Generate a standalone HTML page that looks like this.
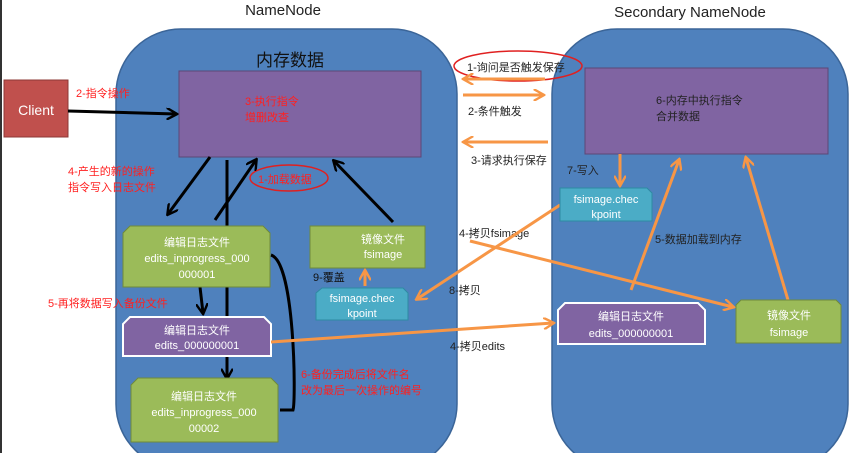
<!DOCTYPE html>
<html><head><meta charset="utf-8"><style>
body{margin:0;background:#fff;width:851px;height:453px;overflow:hidden}
svg{display:block;font-family:"Liberation Sans","Noto Sans CJK SC",sans-serif}
</style></head><body>
<svg width="851" height="453" viewBox="0 0 851 453" xmlns="http://www.w3.org/2000/svg">
<defs>
<marker id="ab" viewBox="0 0 10 10" refX="8" refY="5" markerWidth="4" markerHeight="4" orient="auto"><path d="M0,0 L9,5 L0,10" fill="none" stroke="#000" stroke-width="2"/></marker>
<marker id="ao" viewBox="0 0 10 10" refX="8" refY="5" markerWidth="4" markerHeight="4" orient="auto"><path d="M0,0 L9,5 L0,10" fill="none" stroke="#f79646" stroke-width="2"/></marker>
</defs>
<rect x="0" y="0" width="2" height="453" fill="#333"/>
<text x="283" y="15" font-size="15" text-anchor="middle" fill="#222">NameNode</text>
<text x="690" y="17" font-size="15" text-anchor="middle" fill="#222">Secondary  NameNode</text>
<rect x="116" y="29" width="341" height="440" rx="65" fill="#4f81bd" stroke="#3b6598" stroke-width="1.5"/>
<rect x="552" y="29" width="296" height="440" rx="65" fill="#4f81bd" stroke="#3b6598" stroke-width="1.5"/>
<text x="290" y="66" font-size="17" text-anchor="middle" fill="#111">内存数据</text>
<rect x="179" y="71" width="242" height="86" fill="#8064a2" stroke="#5c4776"/>
<rect x="4" y="80" width="64" height="57" fill="#c0504d" stroke="#8c3836"/>
<text x="36" y="115" font-size="14" text-anchor="middle" fill="#fff">Client</text>
<line x1="68" y1="111" x2="176" y2="114" stroke="#000" stroke-width="3" marker-end="url(#ab)"/>
<g fill="#ff2020" font-size="11">
<text x="76" y="97">2-指令操作</text>
<text x="245" y="105">3-执行指令</text><text x="245" y="121">增删改查</text>
<text x="68" y="175">4-产生的新的操作</text><text x="68" y="191">指令写入日志文件</text>
<text x="48" y="307">5-再将数据写入备份文件</text>
<text x="301" y="378">6-备份完成后将文件名</text><text x="301" y="394">改为最后一次操作的编号</text>
<text x="258" y="183">1-加载数据</text>
</g>
<ellipse cx="289" cy="178" rx="39" ry="13" fill="none" stroke="#e02020" stroke-width="1.5"/>
<!-- black arrows -->
<line x1="210" y1="157" x2="168" y2="214" stroke="#000" stroke-width="3" marker-end="url(#ab)"/>
<line x1="227" y1="160" x2="227" y2="378" stroke="#000" stroke-width="3" marker-end="url(#ab)"/>
<line x1="215" y1="220" x2="256" y2="160" stroke="#000" stroke-width="3" marker-end="url(#ab)"/>
<line x1="393" y1="222" x2="334" y2="161" stroke="#000" stroke-width="3" marker-end="url(#ab)"/>
<line x1="200" y1="287" x2="203" y2="313" stroke="#000" stroke-width="3" marker-end="url(#ab)"/>
<path d="M271,255 C295,262 296,400 293,410 L280,410" fill="none" stroke="#000" stroke-width="3"/>
<!-- NameNode boxes -->
<path d="M130,226 H263 L270,233 V287 H123 V233 Z" fill="#9bbb59" stroke="#6f8a3a"/>
<g fill="#fff" font-size="11" text-anchor="middle">
<text x="197" y="246">编辑日志文件</text><text x="197" y="262">edits_inprogress_000</text><text x="197" y="278">000001</text></g>
<path d="M130,317 H264 L271,324 V356 H123 V324 Z" fill="#8064a2" stroke="#fff" stroke-width="2"/>
<g fill="#fff" font-size="11" text-anchor="middle"><text x="197" y="334">编辑日志文件</text><text x="197" y="349">edits_000000001</text></g>
<path d="M138,378 H271 L278,385 V442 H131 V385 Z" fill="#9bbb59" stroke="#6f8a3a"/>
<g fill="#fff" font-size="11" text-anchor="middle"><text x="204" y="400">编辑日志文件</text><text x="204" y="416">edits_inprogress_000</text><text x="204" y="432">00002</text></g>
<path d="M310,226 H425 V268 H310 Z" fill="#9bbb59" stroke="#6f8a3a"/>
<g fill="#fff" font-size="11" text-anchor="middle"><text x="383" y="243">镜像文件</text><text x="383" y="258">fsimage</text></g>
<path d="M322,288 H403 L408,293 V320 H316 V293 Z" fill="#4bacc6" stroke="#2e8aa3"/>
<g fill="#fff" font-size="11" text-anchor="middle"><text x="362" y="302">fsimage.chec</text><text x="362" y="317">kpoint</text></g>
<text x="313" y="281" font-size="11" fill="#111">9-覆盖</text>
<line x1="365" y1="286" x2="365" y2="271" stroke="#f79646" stroke-width="3" marker-end="url(#ao)"/>
<!-- secondary -->
<rect x="585" y="68" width="243" height="86" fill="#8064a2" stroke="#5c4776"/>
<g fill="#222" font-size="11"><text x="656" y="104">6-内存中执行指令</text><text x="656" y="120">合并数据</text>
<text x="467" y="71">1-询问是否触发保存</text>
<text x="468" y="115">2-条件触发</text><text x="471" y="164">3-请求执行保存</text>
<text x="567" y="174">7-写入</text><text x="459" y="237">4-拷贝fsimage</text>
<text x="449" y="294">8-拷贝</text><text x="450" y="350">4-拷贝edits</text><text x="655" y="243">5-数据加载到内存</text></g>
<ellipse cx="518" cy="66" rx="64" ry="15" fill="none" stroke="#e02020" stroke-width="1.5"/>
<g stroke="#f79646" stroke-width="3">
<line x1="545" y1="79" x2="464" y2="79" marker-end="url(#ao)"/>
<line x1="463" y1="95" x2="543" y2="95" marker-end="url(#ao)"/>
<line x1="548" y1="142" x2="464" y2="142" marker-end="url(#ao)"/>
<line x1="620" y1="154" x2="620" y2="185" marker-end="url(#ao)"/>
<line x1="560" y1="205" x2="417" y2="299" marker-end="url(#ao)"/>
<line x1="470" y1="241" x2="733" y2="307" marker-end="url(#ao)"/>
<line x1="271" y1="342" x2="553" y2="323" marker-end="url(#ao)"/>
<line x1="631" y1="290" x2="679" y2="160" marker-end="url(#ao)"/>
<line x1="788" y1="300" x2="746" y2="158" marker-end="url(#ao)"/>
</g>
<path d="M560,188 H647 L652,193 V221 H560 Z" fill="#4bacc6" stroke="#2e8aa3"/>
<g fill="#fff" font-size="11" text-anchor="middle"><text x="606" y="203">fsimage.chec</text><text x="606" y="218">kpoint</text></g>
<path d="M565,303 H698 L705,310 V344 H558 V310 Z" fill="#8064a2" stroke="#fff" stroke-width="2"/>
<g fill="#fff" font-size="11" text-anchor="middle"><text x="631" y="320">编辑日志文件</text><text x="631" y="337">edits_000000001</text></g>
<path d="M741,300 H836 L841,305 V343 H736 V305 Z" fill="#9bbb59" stroke="#6f8a3a"/>
<g fill="#fff" font-size="11" text-anchor="middle"><text x="789" y="319">镜像文件</text><text x="789" y="336">fsimage</text></g>
</svg>
</body></html>
